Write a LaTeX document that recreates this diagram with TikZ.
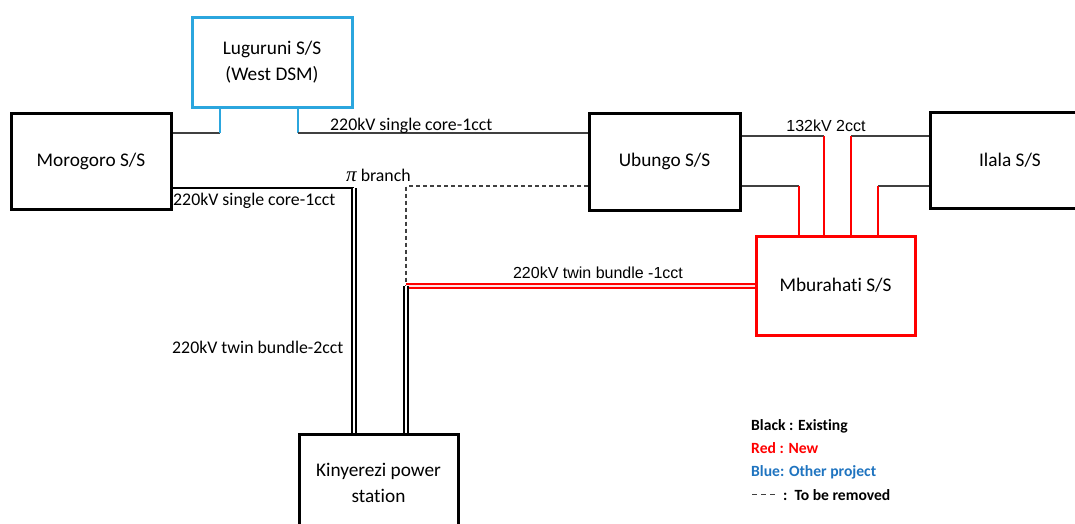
\documentclass[tikz,border=0pt]{standalone}
\usepackage{fontspec}
\setmainfont[Ligatures=NoCommon]{Carlito}
\newfontfamily\arialfont{Liberation Sans}
\newfontfamily\greekfont{Liberation Serif}
\usetikzlibrary{calc}
\definecolor{lineg}{HTML}{404040}
\definecolor{otherblue}{HTML}{2BA6DE}
\definecolor{legblue}{HTML}{1F74C0}
\begin{document}
\begin{tikzpicture}[x=1pt,y=-1pt,
  station/.style={draw=black, line width=3pt, inner sep=0pt, align=center,
    font=\fontsize{19.3}{26}\selectfont, minimum width=160pt, minimum height=96pt},
  wire/.style={draw=lineg, line width=1.1pt},
  bluetap/.style={draw=otherblue, line width=1.4pt},
  redtap/.style={draw=red, line width=1.4pt},
  twin/.style={draw=black, double=white, line width=1.9pt, double distance=1.4pt},
  redtwin/.style={draw=red, double=red!12, line width=1.9pt, double distance=1.8pt},
  removed/.style={draw=lineg, line width=1.1pt, dash pattern=on 4pt off 3pt},
  lbl/.style={font=\fontsize{17.8}{20}\selectfont, inner sep=0pt},
  albl/.style={font=\arialfont\fontsize{16}{19}\selectfont, inner sep=0pt},
  legend/.style={font=\bfseries\fontsize{15.6}{18}\selectfont, inner sep=0pt, anchor=base west}]
\useasboundingbox[fill=white] (0,0) rectangle (1075,523);

% substations
\node[station] (moro) at (91,161) {Morogoro S/S};
\node[station, draw=otherblue, minimum height=90pt] (lug) at (272,62) {Luguruni S/S\\(West DSM)};
\node[station, minimum width=151pt, minimum height=97pt] (ubu) at (664.5,161.5) {Ubungo S/S};
\node[station] (ila) at (1010,160) {Ilala S/S};
\node[station, draw=red, minimum width=159pt, minimum height=99pt] (mbu) at (835.5,285.5) {Mburahati S/S};
\node[station, minimum width=159pt, minimum height=98pt] (kin) at (378.5,483) {Kinyerezi power\\station};

% Morogoro - Ubungo line with the Luguruni loop-in
\coordinate (lugin) at (220,133);
\coordinate (lugout) at (298,133);
\draw[wire] (moro.east |- lugin) -- (lugin);
\draw[bluetap] (lugin) -- (lug.south -| lugin);
\draw[bluetap] (lug.south -| lugout) -- (lugout);
\draw[wire] (lugout) -- (ubu.west |- lugout);
\node[lbl, anchor=base west] (lugline) at (330,130) {220kV single core-1cct};

% Ubungo - Ilala 132kV circuits turned into Mburahati
\coordinate (ta) at (824,136);
\coordinate (tb) at (851,136);
\coordinate (tc) at (799,186);
\coordinate (td) at (878,186);
\draw[wire] (ubu.east |- ta) -- (ta);
\draw[redtap] (ta) -- (mbu.north -| ta);
\draw[wire] (ila.west |- tb) -- (tb);
\draw[redtap] (tb) -- (mbu.north -| tb);
\draw[wire] (ubu.east |- tc) -- (tc);
\draw[redtap] (tc) -- (mbu.north -| tc);
\draw[wire] (ila.west |- td) -- (td);
\draw[redtap] (td) -- (mbu.north -| td);
\node[albl, anchor=base] (kv132) at (826,131) {132kV 2cct};

% Morogoro - Kinyerezi (pi branch)
\coordinate (pib) at (354,188);
\draw[black, line width=1.1pt] (moro.east |- pib) -- (pib);
\draw[twin] (pib) -- (kin.north -| pib);
\node[lbl, anchor=base west] (morline) at (173,205) {220kV single core-1cct};
\node[lbl, anchor=base west] (pilbl) at (346,181) {{\greekfont\itshape\fontsize{21}{22}\selectfont π} branch};
\node[lbl, anchor=base west] (kinline) at (172,353) {220kV twin bundle-2cct};

% Ubungo - Kinyerezi, to be removed, and new Kinyerezi - Mburahati
\coordinate (brk) at (406,286);
\draw[removed] (ubu.west |- 0,186) -| (brk);
\draw[redtwin] (brk) -- (mbu.west |- brk);
\draw[twin] (brk) -- (kin.north -| brk);
\node[albl, anchor=base] (mbuline) at (598,278) {220kV twin bundle -1cct};

% legend
\node[legend] (lgblack) at (751,430) {Black : Existing};
\node[legend, text=red] (lgred) at (751,453) {Red : New};
\node[legend, text=legblue] (lgblue) at (751,476) {Blue: Other project};
\coordinate (dsa) at (752,494);
\coordinate (dsb) at (778,494);
\draw[removed, line width=0.9pt, dash pattern=on 5pt off 4pt] (dsa) -- (dsb);
\node[legend] (lgrem) at (783,500) {:\ \ To be removed};
\end{tikzpicture}
\end{document}
